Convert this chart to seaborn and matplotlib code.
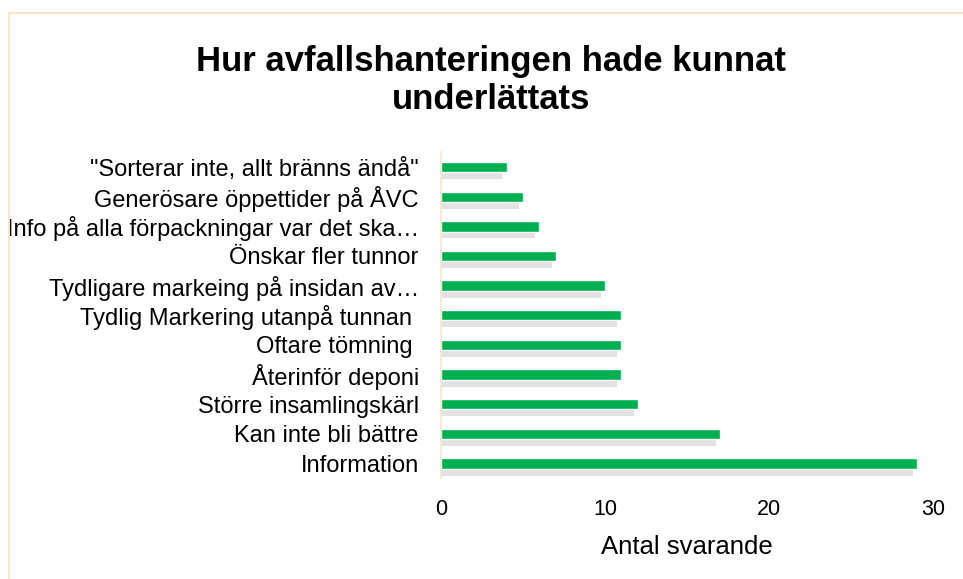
import matplotlib
matplotlib.use("Agg")
import matplotlib.pyplot as plt
import matplotlib.patheffects as pe
import pandas as pd
import seaborn as sns

# data (top to bottom)
labels = [
    '"Sorterar inte, allt bränns ändå"',
    'Generösare öppettider på ÅVC',
    'Info på alla förpackningar var det ska…',
    'Önskar fler tunnor',
    'Tydligare markeing på insidan av…',
    'Tydlig Markering utanpå tunnan ',
    'Oftare tömning ',
    'Återinför deponi',
    'Större insamlingskärl',
    'Kan inte bli bättre',
    'Information',
]
values = [4, 5, 6, 7, 10, 11, 11, 11, 12, 17, 29]
x_ticks = [0, 10, 20, 30]

df = pd.DataFrame({"svar": labels, "antal": values})

sns.set_theme(style="white")
plt.rcParams["font.family"] = ["Liberation Sans", "DejaVu Sans"]
plt.rcParams["text.color"] = "black"

fig = plt.figure(figsize=(9.63, 5.79), dpi=100)
ax = fig.add_axes([0.458, 0.174, 0.511, 0.563])

sns.barplot(data=df, y="svar", x="antal", color="#00B050", width=0.35,
            saturation=1, ax=ax)

# soft drop shadow under each bar
for p in ax.patches:
    p.set_path_effects([
        pe.SimplePatchShadow(offset=(-3, -5), shadow_rgbFace="#a0a0a0", alpha=0.3),
        pe.Normal(),
    ])

ax.set_xlim(0, 30)
ax.set_xticks(x_ticks)
ax.set_xlabel("Antal svarande", fontsize=18.5, color="black", labelpad=11)
ax.set_ylabel("")
ax.tick_params(axis="y", labelsize=17, colors="black", length=0, pad=16)
ax.tick_params(axis="x", labelsize=15.5, colors="black", length=0, pad=15)

for side in ["top", "right", "bottom"]:
    ax.spines[side].set_visible(False)
ax.spines["left"].set_color("#FBE5C8")
ax.spines["left"].set_linewidth(1.2)

fig.suptitle("Hur avfallshanteringen hade kunnat\nunderlättats", x=0.51, y=0.922,
             fontsize=25, fontweight="bold", linespacing=1.2, color="black")

# light frame around the chart area
fig.patches.append(plt.Rectangle((0.009, -0.01), 1.0, 0.988, transform=fig.transFigure,
                                 fill=False, edgecolor="#FBE5C8", linewidth=1.5))

fig.savefig("out.png", dpi=100)
